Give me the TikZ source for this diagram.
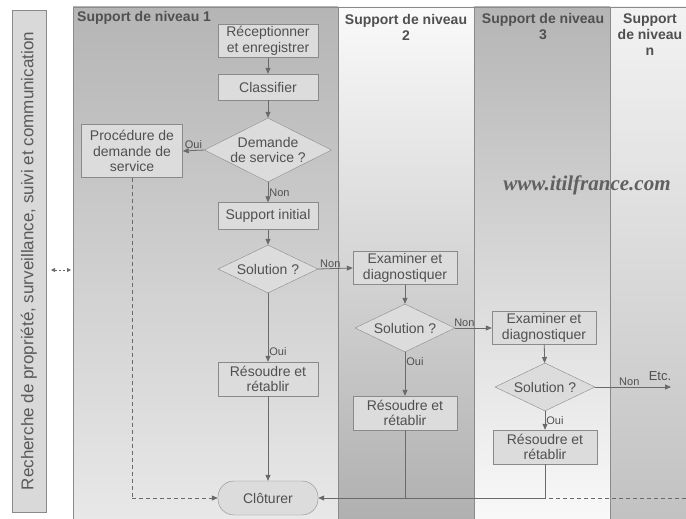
\documentclass[tikz,border=0pt]{standalone}
\usepackage{fontspec}
\setmainfont{Liberation Sans}
\newfontfamily\wmfont{Liberation Serif}
\usetikzlibrary{shapes.geometric,arrows.meta}
\definecolor{txt}{HTML}{505050}
\definecolor{boxfill}{HTML}{DCDCDC}
\definecolor{boxline}{HTML}{8A8A8A}
\definecolor{lineC}{HTML}{6A6A6A}
\tikzset{
  every node/.style={text=txt},
  proc/.style={draw=boxline, fill=boxfill, minimum width=100pt, align=center, inner sep=1pt,
    font=\fontsize{14}{15.5}\selectfont},
  decide/.style={draw=boxline, fill=boxfill, diamond, aspect=2, inner sep=0pt, align=center,
    font=\fontsize{14}{15.5}\selectfont},
  term/.style={draw=boxline, fill=boxfill, rounded corners=16pt, minimum width=100pt, minimum height=34pt,
    font=\fontsize{14}{15.5}\selectfont},
  flow/.style={draw=lineC, line width=0.8pt, -{Triangle[length=6pt,width=5pt]}},
  plain/.style={draw=lineC, line width=0.8pt},
  dflow/.style={draw=lineC, line width=0.8pt, dashed, dash pattern=on 4pt off 3pt},
  lab/.style={font=\fontsize{11}{12}\selectfont, inner sep=1pt},
  head/.style={font=\bfseries\fontsize{14}{16}\selectfont, align=center, inner sep=0pt},
  lane/.style={draw=boxline, line width=0.6pt}
}
\begin{document}
\begin{tikzpicture}[x=1pt,y=-1pt]
\useasboundingbox (0,0) rectangle (686,519);
% lanes
\shade[top color=gray!58, bottom color=gray!18] (73,7) rectangle (338,519);
\shade[top color=gray!4, bottom color=gray!62] (338,7) rectangle (474,519);
\shade[top color=gray!58, bottom color=gray!5] (474,7) rectangle (610,519);
\shade[top color=gray!10, bottom color=gray!48] (610,7) rectangle (686,519);
\draw[lane] (73,519) -- (73,7) -- (686,7);
\draw[lane] (338,7) -- (338,519);
\draw[lane] (474,7) -- (474,519);
\draw[lane] (610,7) -- (610,519);
% headers
\node[head, anchor=west] (h1) at (77,18) {Support de niveau 1};
\node[head] (h2) at (406,27) {Support de niveau\\2};
\node[head] (h3) at (543,27) {Support de niveau\\3};
\node[head] (hn) at (650,35) {Support\\de niveau\\n};
% watermark
\node[font=\wmfont\bfseries\itshape\fontsize{21}{23}\selectfont, text=gray!75!black] (wm) at (587,185) {www.itilfrance.com};
% left box
\node[draw=boxline, fill=gray!30, rotate=90, minimum width=502pt, minimum height=34pt,
  font=\fontsize{17}{19}\selectfont, text=gray!70!black, inner sep=0pt] (side) at (29,261)
  {Recherche de propriété, surveillance, suivi et communication};
\coordinate (sa) at (51,270);
\coordinate (sb) at (71,270);
\draw[dflow, dash pattern=on 2pt off 2pt, {Triangle[length=4pt,width=4pt]}-{Triangle[length=4pt,width=4pt]}] (sa) -- (sb);
% nodes
\node[proc, minimum height=33pt] (rec) at (268,41) {Réceptionner\\et enregistrer};
\node[proc, minimum height=26pt] (cla) at (268,87) {Classifier};
\node[decide, minimum width=116pt, minimum height=64pt] (dem) at (268,150) {Demande\\de service ?};
\node[proc, minimum width=101pt, minimum height=53pt] (pro) at (132,151) {Procédure de\\demande de\\service};
\node[proc, minimum height=27pt] (sup) at (268,216) {Support initial};
\node[decide, minimum width=100pt, minimum height=48pt] (s1) at (268,269) {Solution ?};
\node[proc, minimum height=34pt] (r1) at (268,379) {Résoudre et\\rétablir};
\node[term] (clo) at (268,498) {Clôturer};
\node[proc, minimum width=104pt, minimum height=33pt] (e2) at (405,268) {Examiner et\\diagnostiquer};
\node[decide, minimum width=100pt, minimum height=48pt] (s2) at (405,328) {Solution ?};
\node[proc, minimum width=104pt, minimum height=34pt] (r2) at (405,413) {Résoudre et\\rétablir};
\node[proc, minimum width=104pt, minimum height=33pt] (e3) at (544,328) {Examiner et\\diagnostiquer};
\node[decide, minimum width=100pt, minimum height=48pt] (s3) at (545,387) {Solution ?};
\node[proc, minimum width=104pt, minimum height=34pt] (r3) at (545,447) {Résoudre et\\rétablir};
\coordinate (etc) at (671,387);
\node[font=\fontsize{13}{14}\selectfont, inner sep=0pt] (etct) at (660,376) {Etc.};
\coordinate (j2) at (405,498);
\coordinate (j3) at (545,498);
\coordinate (jr) at (686,498);
\coordinate (jp) at (132,498);
% connectors
\draw[flow] (rec) -- (cla);
\draw[flow] (cla) -- (dem);
\draw[flow] (dem.west) -- node[lab, above] {Oui} (pro.east);
\draw[flow] (dem.south) -- node[lab, right, pos=0.55] {Non} (sup.north);
\draw[flow] (sup) -- (s1);
\draw[flow] (s1.east) -- node[lab, above, pos=0.35] {Non} (e2.west);
\draw[flow] (s1.south) -- node[lab, right, pos=0.85] {Oui} (r1.north);
\draw[flow] (r1) -- (clo);
\draw[flow] (e2) -- (s2);
\draw[flow] (s2.east) -- node[lab, above, pos=0.25] {Non} (e3.west);
\draw[flow] (s2.south) -- node[lab, right, pos=0.22] {Oui} (r2.north);
\draw[flow] (e3) -- (s3);
\draw[flow] (s3.south) -- node[lab, right] {Oui} (r3.north);
\draw[flow] (s3.east) -- node[lab, above, pos=0.45] {Non} (etc);
\draw[dflow] (pro.south) -- (jp);
\draw[dflow, -{Triangle[length=6pt,width=5pt]}] (jp) -- (clo.west);
\draw[plain] (r2.south) -- (j2);
\draw[plain] (r3.south) -- (j3);
\draw[dflow] (jr) -- (j3);
\draw[flow] (j3) -- (clo.east);
\end{tikzpicture}
\end{document}
